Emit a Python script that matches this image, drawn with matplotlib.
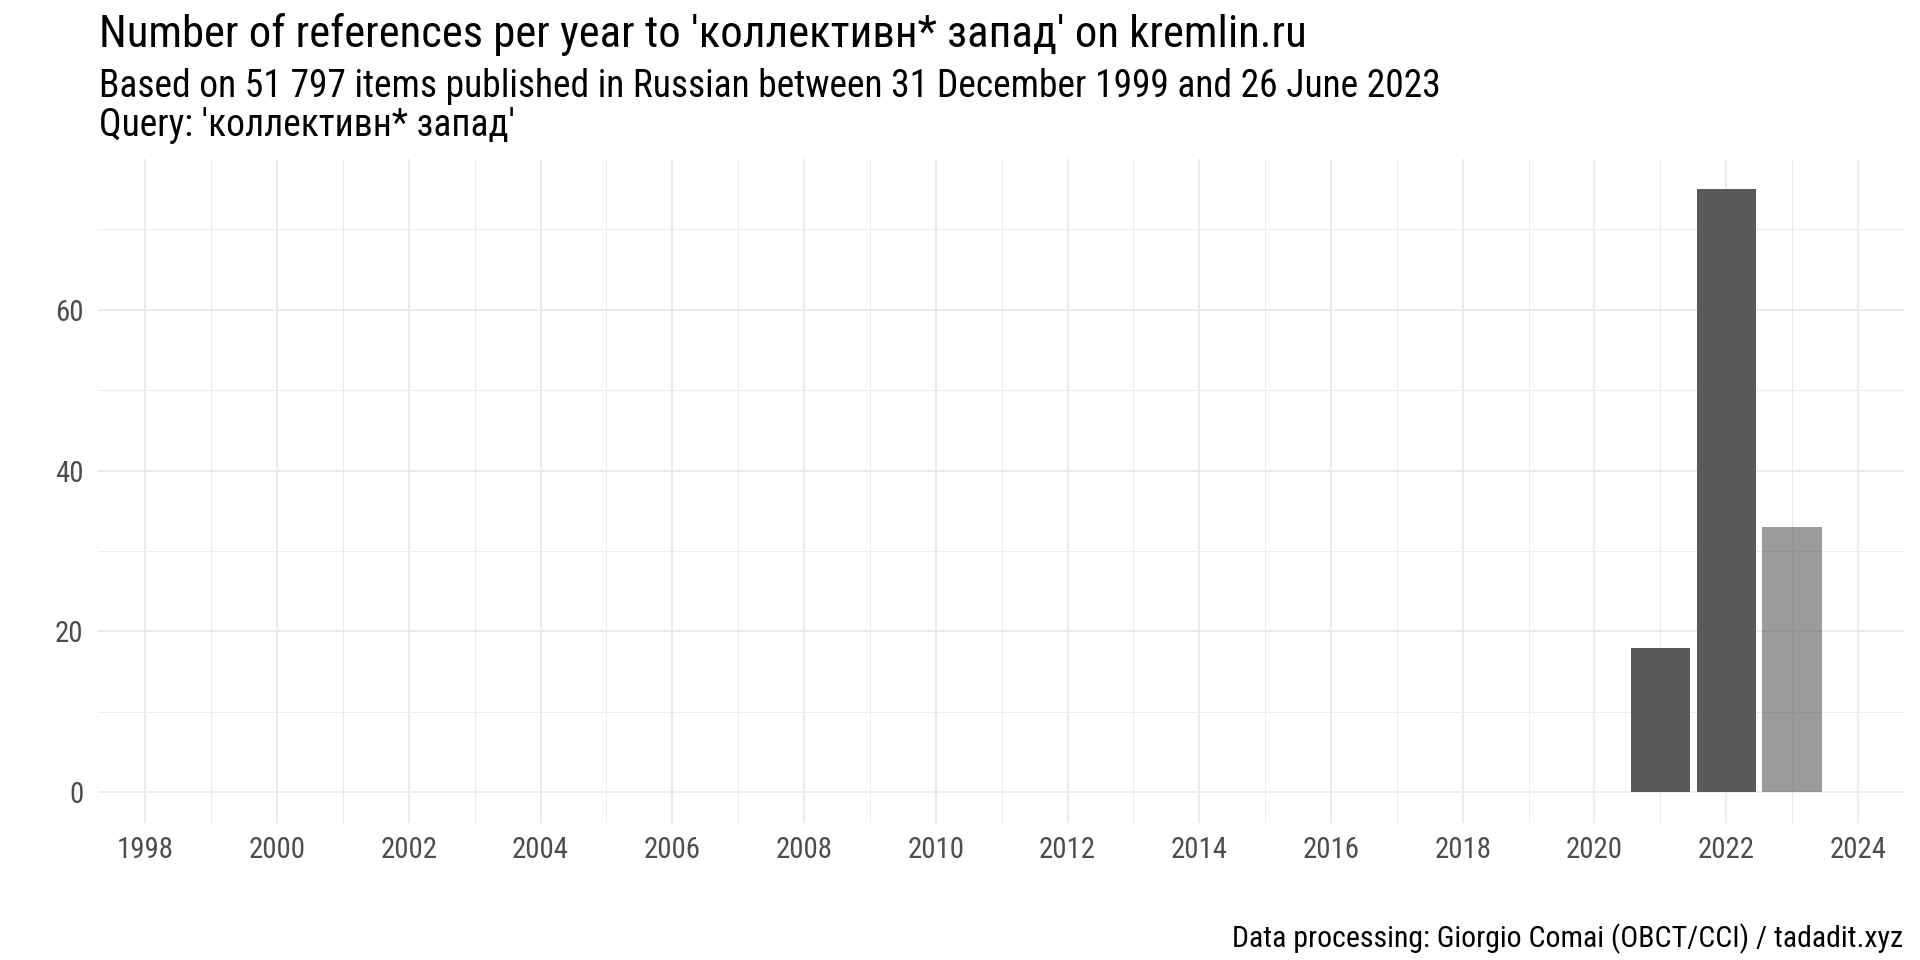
import matplotlib
matplotlib.use("Agg")
import matplotlib.pyplot as plt
from matplotlib import font_manager as fm

# ---- data ----
years = [2021, 2022, 2023]
counts = [18, 75, 33]
partial = [False, False, True]   # 2023 is an incomplete year
x_ticks = [1998, 2000, 2002, 2004, 2006, 2008, 2010, 2012, 2014, 2016, 2018, 2020, 2022, 2024]
y_ticks = [0, 20, 40, 60]

title = "Number of references per year to 'коллективн* запад' on kremlin.ru"
subtitle = "Based on 51 797 items published in Russian between 31 December 1999 and 26 June 2023"
query = "Query: 'коллективн* запад'"
caption = "Data processing: Giorgio Comai (OBCT/CCI) / tadadit.xyz"

names = {f.name for f in fm.fontManager.ttflist}
fam = "Roboto Condensed" if "Roboto Condensed" in names else "Roboto"
plt.rcParams['font.family'] = [fam, 'DejaVu Sans']

W, H = 1920, 960
fig = plt.figure(figsize=(W/100, H/100), dpi=100)
ax = fig.add_axes([98/W, 1-822.5/H, (1904-98)/W, (822.5-159)/H])

grid_c = "#ebebeb"
for xm in range(1997, 2025, 1):
    lw = 1.4 if xm % 2 == 0 else 0.7
    ax.axvline(xm, color=grid_c, lw=lw, zorder=0)
for ym in [0, 10, 20, 30, 40, 50, 60, 70]:
    lw = 1.4 if ym % 20 == 0 else 0.7
    ax.axhline(ym, color=grid_c, lw=lw, zorder=0)

for yr, c, p in zip(years, counts, partial):
    ax.bar(yr, c, width=0.9, color="#595959", alpha=0.6 if p else 1.0, zorder=2, linewidth=0)

ax.set_xlim(1997.28, 2024.7)
ax.set_ylim(-3.75, 78.75)
ax.set_xticks(x_ticks)
ax.set_yticks(y_ticks)
ax.tick_params(length=0, labelsize=20.8, labelcolor="#4d4d4d")
ax.tick_params(axis='x', pad=10)
ax.tick_params(axis='y', pad=10.5)
for s in ax.spines.values():
    s.set_visible(False)

fig.text(99/W, 1-46.5/H, title, fontsize=32.2, va='baseline', ha='left', color='black')
fig.text(99/W, 1-97/H, subtitle, fontsize=27, va='baseline', ha='left', color='black')
fig.text(99/W, 1-136.5/H, query, fontsize=27, va='baseline', ha='left', color='black')
fig.text(1903/W, 1-947/H, caption, fontsize=21.5, va='baseline', ha='right', color='black')

fig.savefig("out.png", dpi=100, facecolor="white")
